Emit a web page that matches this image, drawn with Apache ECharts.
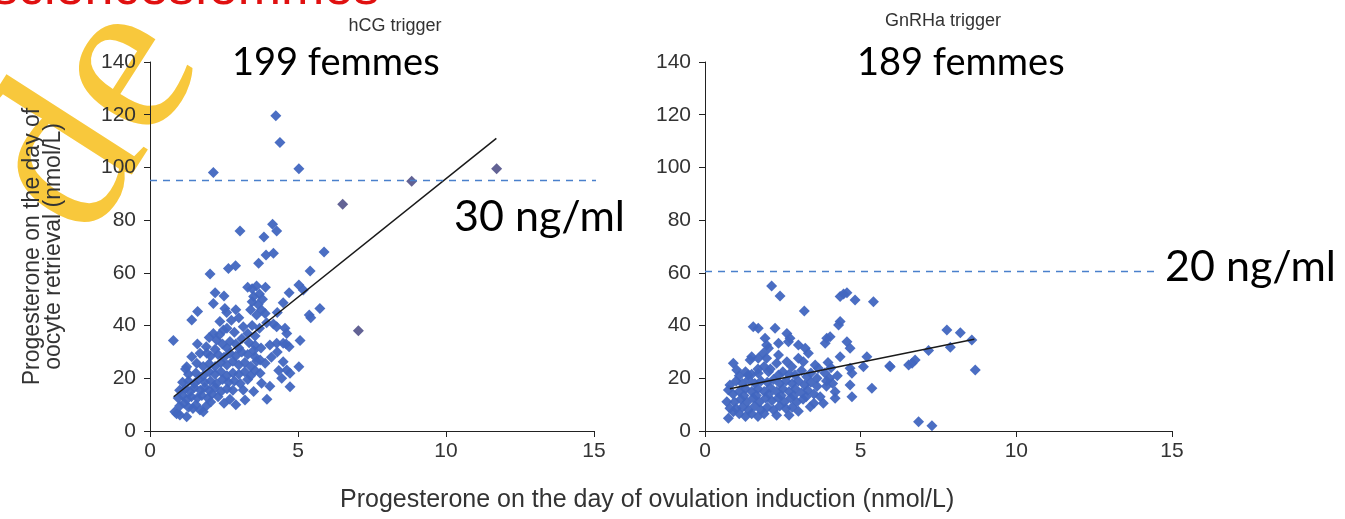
<!DOCTYPE html>
<html><head><meta charset="utf-8">
<script src="https://cdn.jsdelivr.net/npm/echarts@6/dist/echarts.min.js"></script>
<style>html,body{margin:0;padding:0;background:#fff}#c{width:1345px;height:519px}</style>
</head><body><div id="c"></div><script>
// ---- data ----
const xTicks = [0, 5, 10, 15];
const yTicks = [0, 20, 40, 60, 80, 100, 120, 140];
const titles = ['hCG trigger', 'GnRHa trigger'];
const counts = ['199 femmes', '189 femmes'];
const thresholdLabels = ['30 ng/ml', '20 ng/ml'];
const xAxisName = 'Progesterone on the day of ovulation induction (nmol/L)';
const yAxisName = 'Progesterone on the day of\noocyte retrieval (nmol/L)';

const hcgThreshold = [[0, 95], [15.3, 95]];
const gnrhThreshold = [[0, 60.5], [14.6, 60.5]];
const hcgFit = [[0.8, 13], [11.7, 111]];
const gnrhFit = [[0.8, 16], [8.65, 34.8]];

const hcgOutliers = [[6.51,86.0],[8.84,94.8],[11.71,99.5],[7.04,38.0]];
const hcgPoints = [
 [4.25,119.6],[4.39,109.5],[2.14,98.1],[5.03,99.5],
 [3.04,75.9],[4.14,78.4],[4.28,75.9],[3.85,73.6],[3.92,66.8],[4.17,67.4],[5.88,67.9],[2.03,59.6],[2.65,61.7],[2.89,62.7],[3.67,63.6],[5.41,60.7],[5.03,55.4],[5.18,53.5],[2.20,52.5],[2.5,51.2],[2.14,48.4],[2.53,46.5],[2.59,45.0],[1.61,45.3],[1.41,42.1],
 [3.3,54.5],[3.45,54],[3.6,55],[3.5,51],[3.7,52],[3.45,49],[3.65,48],[3.8,50],[3.9,54.5],
 [3.77,45.9],[3.89,44.6],[4.70,52.5],[4.5,48.7],[5.38,44],[5.43,43],[5.74,46.5],[5.07,34.3],[5.03,24.4],[0.79,34.3],[3.15,39.6],[2.36,41.5],[2.48,38.3],[2.14,37],[2.25,34.5],[3.94,41.1],[4.17,40.6],[4.28,39.6],[4.56,39],[4.62,37],
 [4.05,32.6],[4.28,33.3],[4.5,33.3],[4.6,33],[4.7,32],[4.5,26.3],[4.62,23.1],[4.73,21.9],[4.73,16.8],[3.55,28.2],[3.72,26.9],[3.89,25.7],[3.77,18.1],[3.72,21.9],[3.15,15.6],[3.21,11.8],
 [1.24,24.4],[1.41,28.2],[1.58,25.7],[1.2,23.5],[1.69,29.5],[1.92,29.5],[0.84,7.3],[1.01,6.1],[1.24,5.4],[0.9,6.5],[1.69,8],[1.80,7.3],
 [1.0,9.5],[1.15,10.5],[1.3,9],[1.45,8.5],[1.55,10],[1.9,9.5],[2.05,11],
 [0.95,12.5],[1.1,13.5],[1.25,12],[1.4,13],[1.6,12.5],[1.75,13.5],[1.95,12.5],[2.1,14],[2.3,13],
 [1.0,15.5],[1.2,16],[1.35,15],[1.5,16.5],[1.7,15.5],[1.85,16.5],[2.0,15.5],[2.2,16.5],[2.4,15],[2.6,16],[2.8,15.5],
 [1.1,18.5],[1.3,19],[1.5,18],[1.65,19.5],[1.85,18.5],[2.05,19],[2.25,18],[2.45,19.5],[2.65,18.5],[2.85,19],[3.05,18],[3.3,19.5],
 [1.3,21.5],[1.55,22],[1.8,21],[2.0,22.5],[2.2,21.5],[2.4,22.5],[2.6,21],[2.8,22],[3.0,21.5],[3.2,22.5],[3.4,21],[3.55,23],
 [1.8,24.5],[2.0,25.5],[2.2,24.5],[2.4,26],[2.6,25],[2.8,26.5],[3.0,25],[3.2,26],[3.4,24.5],[3.6,26.5],
 [2.05,28.5],[2.3,29],[2.5,28],[2.7,29.5],[2.9,28.5],[3.1,30],[3.3,29],[3.5,30.5],[2.2,31],[2.6,31.5],[3.0,31.5],
 [2.45,33],[2.7,34],[2.9,33],[3.1,35],[3.35,33.5],[3.55,32.5],[3.75,31.5],[2.0,35.5],[2.35,36.5],[3.3,37],[3.55,36],
 [2.6,39],[2.85,37.5],[3.45,40],[3.7,39],[2.75,42],[3.0,43],[1.9,32],[1.6,33],
 [3.6,44],[3.4,46],[2.9,46],[4.3,45],[4.1,28],[4.3,30],[4.45,20],[4.35,23],[4.05,17],[3.95,12],[2.7,12],[2.9,10],[2.5,10.5],[3.5,15]
];
const gnrhPoints = [
 [2.14,55],[2.41,51.2],[3.19,45.5],[4.34,51],[4.56,52.5],[4.82,49.7],[5.41,49],[4.45,52],
 [4.34,41.5],[4.29,40.2],[1.55,39.6],[1.71,39],[2.25,39],[2.63,37],[2.73,35.2],[2.68,33.9],[3.91,35.2],[4.02,35.8],[3.86,33.3],[4.56,33.9],[4.66,31.4],[1.93,35.2],[1.98,32.6],[2.04,31.4],[2.36,33.3],[3.0,32.6],[3.22,31.4],[3.32,29.5],
 [0.91,25.7],[1.02,23.1],[1.5,28.2],[1.45,26.9],[1.71,27.6],[1.87,29.5],[1.98,27.6],[2.36,28.8],[2.3,25.7],[2.63,26.3],[2.79,24.4],[3.0,27.6],[3.16,26.3],[3.54,25],[3.64,23.8],
 [4.34,28.2],[5.2,28.2],[5.95,24.4],[5.09,24.4],[4.66,23.8],[4.72,21.9],[4.66,17.5],[4.72,13],[5.36,16.2],[4.18,14.9],[4.18,12.4],[3.80,10.5],[3.38,9.2],[0.75,4.8],[0.7,11.1],[0.8,8.6],[0.91,7.3],[0.8,17.5],[0.75,15.6],
 [7.77,38.3],[8.2,37.3],[8.57,34.5],[8.68,23.1],[7.88,31.8],[7.18,30.5],[6.75,26.9],[6.65,25.7],[6.54,25],[5.93,24.7],[6.86,3.5],[7.29,2.0],
 [3.85,22],[4.0,20],[4.1,18],[3.9,17],[4.25,21],[4.05,24],[3.95,26],
 [1.39,21.2],[1.71,21.9],[2.04,22.5],[2.36,21.2],[2.89,21.2],[3.27,20.6],
 [1.0,19],[1.2,18],[1.4,19.5],[1.6,18],[1.8,19],[2.0,18.5],[2.2,19.5],[2.4,18],[2.6,19],[2.8,18],[3.0,19],[3.2,17.5],[3.4,18.5],
 [0.9,14],[1.1,15],[1.3,16],[1.5,15],[1.7,16],[1.9,15],[2.1,16.5],[2.3,15],[2.5,16],[2.7,15],[2.9,16],[3.1,14.5],[3.3,15.5],[3.5,14],
 [0.95,11],[1.15,12],[1.35,11],[1.55,12.5],[1.75,11],[1.95,12.5],[2.15,11.5],[2.35,12.5],[2.55,11],[2.75,12.5],[2.95,11],[3.15,12],
 [1.0,8.5],[1.2,9],[1.4,8],[1.6,9.5],[1.8,8],[2.0,9],[2.2,8],[2.4,9.5],[2.6,8.5],[2.8,9],[3.0,7.5],
 [1.1,6.5],[1.3,5.5],[1.5,6.5],[1.7,5.5],[1.9,6.5],[2.3,6],[2.7,6],
 [1.25,13.5],[1.65,13.5],[2.05,14],[2.45,13.5],[2.85,13.5],[3.25,13],
 [1.1,21],[1.3,22.5],[1.5,21.5],[1.7,23.5],[1.9,24.5],[2.1,23.5],[2.5,22.5],[2.7,21.5],[3.1,23],[3.4,22],[3.6,20],
 [3.5,10.5],[3.7,13],[3.6,17],[3.9,19]
];

// ---- chart ----
const FONT = 'Liberation Sans';
const BIG = 'Lato';
const chart = echarts.init(document.getElementById('c'), null, {renderer:'canvas'});
function xAx(g){return {type:'value',gridIndex:g,min:xTicks[0],max:xTicks[xTicks.length-1],interval:5,
  axisLine:{show:true,lineStyle:{color:'#222',width:1}},axisTick:{show:true,length:6,lineStyle:{color:'#222'}},
  axisLabel:{fontSize:21,color:'#333',fontFamily:FONT,margin:10},splitLine:{show:false}};}
function yAx(g,named){return {type:'value',gridIndex:g,min:yTicks[0],max:yTicks[yTicks.length-1],interval:20,
  axisLine:{show:true,lineStyle:{color:'#222',width:1}},axisTick:{show:true,length:6,lineStyle:{color:'#222'}},
  axisLabel:{fontSize:21,color:'#333',fontFamily:FONT,margin:14},splitLine:{show:false},
  name:named?yAxisName:'',nameLocation:'middle',nameRotate:90,nameGap:86,
  nameTextStyle:{fontSize:23,color:'#333',fontFamily:FONT,lineHeight:21}};}
const dot = '#4166c0';
function sc(d,g,c){return {type:'scatter',xAxisIndex:g,yAxisIndex:g,data:d,symbol:'diamond',symbolSize:11,
  itemStyle:{color:c,opacity:0.95},silent:true,z:3};}
function ln(d,g,style){return {type:'line',xAxisIndex:g,yAxisIndex:g,data:d,symbol:'none',clip:false,
  lineStyle:style,silent:true,z:4};}
chart.setOption({
  backgroundColor:'#fff',
  animation:false,
  grid:[{left:150,top:62,width:444,height:369},{left:705,top:62,width:467,height:369}],
  xAxis:[xAx(0),xAx(1)],
  yAxis:[yAx(0,true),yAx(1,false)],
  title:[
    {text:titles[0],left:390,top:12,textAlign:'center',textStyle:{fontSize:18,fontWeight:'normal',color:'#333',fontFamily:FONT}},
    {text:titles[1],left:938,top:7,textAlign:'center',textStyle:{fontSize:18,fontWeight:'normal',color:'#333',fontFamily:FONT}}
  ],
  series:[
    sc(hcgPoints,0,dot), sc(hcgOutliers,0,'#5a5a8e'),
    ln(hcgFit,0,{color:'#1a1a1a',width:1.5}),
    ln(hcgThreshold,0,{color:'#4a80cc',width:1.5,type:[7,6]}),
    sc(gnrhPoints,1,dot),
    ln(gnrhFit,1,{color:'#1a1a1a',width:1.5}),
    ln(gnrhThreshold,1,{color:'#4a80cc',width:1.5,type:[7,6]})
  ],
  graphic:[
    {type:'text',z:0,x:95,y:120,rotation:1.0,style:{text:'de',font:'230px "Liberation Serif"',fill:'#f8c83c',textAlign:'center',textVerticalAlign:'middle'}},
    {type:'text',z:0,left:-8,top:-36,style:{text:'sciencesfemmes',font:'52px "Liberation Sans"',fill:'#e01010'}},
    {type:'text',left:232,top:44,style:{text:counts[0],font:'38px '+BIG,fill:'#000'}},
    {type:'text',left:857,top:44,style:{text:counts[1],font:'38px '+BIG,fill:'#000'}},
    {type:'text',left:454,top:196,style:{text:thresholdLabels[0],font:'43px '+BIG,fill:'#000'}},
    {type:'text',left:1165,top:246,style:{text:thresholdLabels[1],font:'43px '+BIG,fill:'#000'}},
    {type:'text',left:340,top:488,style:{text:xAxisName,font:'25px "Liberation Sans"',fill:'#333'}}
  ]
});
</script></body></html>
